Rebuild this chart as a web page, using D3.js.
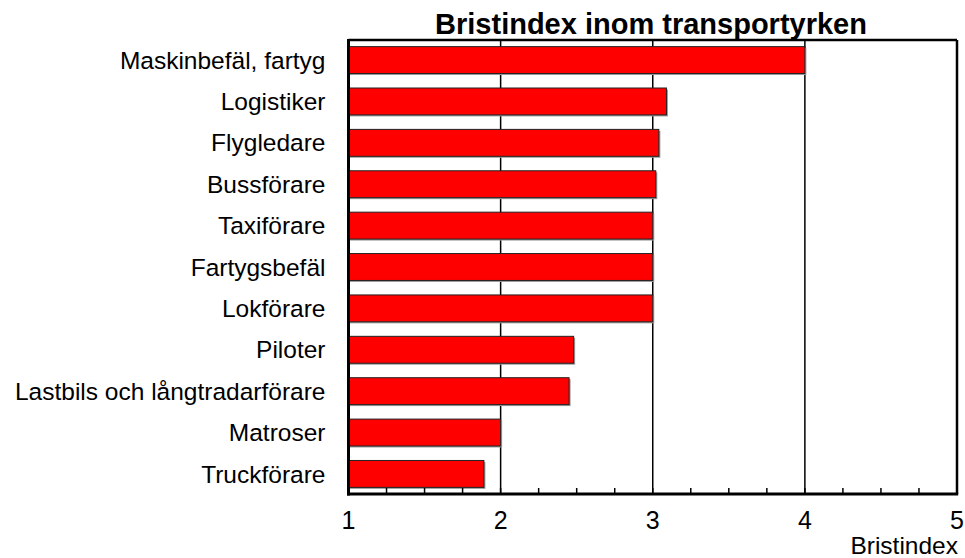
<!DOCTYPE html>
<html>
<head>
<meta charset="utf-8">
<script src="https://cdn.jsdelivr.net/npm/d3@7"></script>
<style>
    body { margin: 0; background: #fff; }
    text { font-family: "Liberation Sans", Arial, sans-serif; fill: #000; }
</style>
</head>
<body>
<script>
const categories = ["Maskinbefäl, fartyg", "Logistiker", "Flygledare", "Bussförare", "Taxiförare",
    "Fartygsbefäl", "Lokförare", "Piloter", "Lastbils och långtradarförare", "Matroser", "Truckförare"];
const values = [4.0, 3.09, 3.04, 3.02, 3.0, 3.0, 3.0, 2.48, 2.45, 2.0, 1.89];
const xTicks = [1, 2, 3, 4, 5];
const minorTicks = d3.range(1, 5.001, 0.25);

const svgWidth = 965;
const svgHeight = 558;
const margin = {top: 40, right: 8, bottom: 64, left: 348.5};
const chartWidth = svgWidth - margin.left - margin.right;
const chartHeight = svgHeight - margin.top - margin.bottom;

const svg = d3.select("body").append("svg")
    .attr("width", svgWidth)
    .attr("height", svgHeight);

const g = svg.append("g")
    .attr("transform", `translate(${margin.left}, ${margin.top})`);

const x = d3.scaleLinear().domain([1, 5]).range([0, chartWidth]);
const y = d3.scaleBand().domain(categories).range([0, chartHeight]).paddingInner(0.35).paddingOuter(0.16);

// gridlines
g.selectAll(".grid")
    .data(xTicks.slice(1, -1))
    .join("line")
    .attr("x1", d => x(d)).attr("x2", d => x(d))
    .attr("y1", 0).attr("y2", chartHeight)
    .style("stroke", "#000")
    .style("stroke-width", 1.5);

// bar shadows
g.selectAll(".shadow")
    .data(categories)
    .join("rect")
    .attr("x", x(1) + 1.5)
    .attr("y", d => y(d) + 1.5)
    .attr("width", (d, i) => x(values[i]) - x(1))
    .attr("height", y.bandwidth())
    .style("fill", "#999");

// bars
g.selectAll(".bar")
    .data(categories)
    .join("rect")
    .attr("x", x(1))
    .attr("y", d => y(d))
    .attr("width", (d, i) => x(values[i]) - x(1))
    .attr("height", y.bandwidth())
    .style("fill", "#ff0000")
    .style("stroke", "#222")
    .style("stroke-width", 1);

// minor ticks on bottom axis
g.selectAll(".minor")
    .data(minorTicks)
    .join("line")
    .attr("x1", d => x(d)).attr("x2", d => x(d))
    .attr("y1", chartHeight).attr("y2", chartHeight - 6)
    .style("stroke", "#000")
    .style("stroke-width", 1.5);

// frame
g.append("line").attr("x1", 0).attr("x2", chartWidth).attr("y1", 0).attr("y2", 0)
    .style("stroke", "#000").style("stroke-width", 2.5);
g.append("line").attr("x1", chartWidth).attr("x2", chartWidth).attr("y1", 0).attr("y2", chartHeight)
    .style("stroke", "#000").style("stroke-width", 2.5);
g.append("line").attr("x1", 0).attr("x2", 0).attr("y1", -1).attr("y2", chartHeight + 1.5)
    .style("stroke", "#000").style("stroke-width", 3);
g.append("line").attr("x1", -1.5).attr("x2", chartWidth + 1.2).attr("y1", chartHeight).attr("y2", chartHeight)
    .style("stroke", "#000").style("stroke-width", 3);

// x tick labels
g.selectAll(".xlabel")
    .data(xTicks)
    .join("text")
    .attr("x", d => x(d))
    .attr("y", chartHeight + 35)
    .attr("text-anchor", "middle")
    .style("font-size", "25px")
    .text(d => d);

// category labels
g.selectAll(".ylabel")
    .data(categories)
    .join("text")
    .attr("x", -23)
    .attr("y", d => y(d) + y.bandwidth() / 2)
    .attr("dy", "0.35em")
    .attr("text-anchor", "end")
    .style("font-size", "24.5px")
    .text(d => d);

// axis title
g.append("text")
    .attr("x", chartWidth + 1)
    .attr("y", chartHeight + 60)
    .attr("text-anchor", "end")
    .style("font-size", "24.5px")
    .text("Bristindex");

// chart title
svg.append("text")
    .attr("x", 651)
    .attr("y", 34)
    .attr("text-anchor", "middle")
    .style("font-size", "29px")
    .style("font-weight", "bold")
    .text("Bristindex inom transportyrken");
</script>
</body>
</html>
